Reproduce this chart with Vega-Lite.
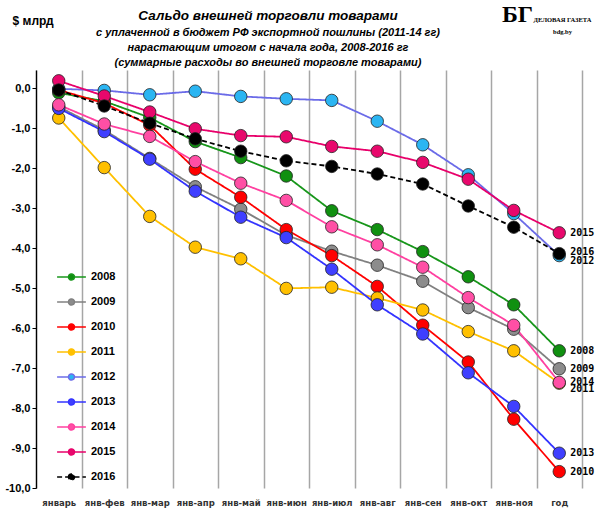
{
  "$schema": "https://vega.github.io/schema/vega-lite/v6.json",
  "width": 546,
  "height": 418,
  "autosize": {"type": "none"},
  "padding": {"left": 36, "top": 70, "right": 18, "bottom": 26},
  "background": "white",
  "title": {
    "text": "Сальдо внешней торговли товарами",
    "subtitle": [
      "с уплаченной в бюджет РФ экспортной пошлины (2011-14 гг)",
      "нарастающим итогом с начала года, 2008-2016  гг",
      "(суммарные  расходы во внешней  торговле  товарами)"
    ],
    "font": "Liberation Sans",
    "fontSize": 13.5,
    "fontStyle": "italic",
    "fontWeight": "bold",
    "subtitleFont": "Liberation Sans",
    "subtitleFontSize": 11,
    "subtitleFontStyle": "italic",
    "subtitleFontWeight": "bold",
    "subtitleColor": "black",
    "subtitleLineHeight": 15,
    "subtitlePadding": 5,
    "anchor": "middle",
    "frame": "group",
    "dx": -41,
    "dy": 70,
    "offset": 4
  },
  "data": {
    "values": [
      {"m": "январь", "yr": "2008", "v": -0.12},
      {"m": "январь", "yr": "2009", "v": -0.47},
      {"m": "январь", "yr": "2010", "v": -0.05},
      {"m": "январь", "yr": "2011", "v": -0.75},
      {"m": "январь", "yr": "2012", "v": -0.02},
      {"m": "январь", "yr": "2013", "v": -0.51},
      {"m": "январь", "yr": "2014", "v": -0.42},
      {"m": "январь", "yr": "2015", "v": 0.18},
      {"m": "январь", "yr": "2016", "v": -0.05},
      {"m": "янв-фев", "yr": "2008", "v": -0.33},
      {"m": "янв-фев", "yr": "2009", "v": -1.05},
      {"m": "янв-фев", "yr": "2010", "v": -0.38},
      {"m": "янв-фев", "yr": "2011", "v": -1.99},
      {"m": "янв-фев", "yr": "2012", "v": -0.06},
      {"m": "янв-фев", "yr": "2013", "v": -1.09},
      {"m": "янв-фев", "yr": "2014", "v": -0.9},
      {"m": "янв-фев", "yr": "2015", "v": -0.2},
      {"m": "янв-фев", "yr": "2016", "v": -0.45},
      {"m": "янв-мар", "yr": "2008", "v": -0.74},
      {"m": "янв-мар", "yr": "2009", "v": -1.76},
      {"m": "янв-мар", "yr": "2010", "v": -0.93},
      {"m": "янв-мар", "yr": "2011", "v": -3.21},
      {"m": "янв-мар", "yr": "2012", "v": -0.17},
      {"m": "янв-мар", "yr": "2013", "v": -1.78},
      {"m": "янв-мар", "yr": "2014", "v": -1.21},
      {"m": "янв-мар", "yr": "2015", "v": -0.6},
      {"m": "янв-мар", "yr": "2016", "v": -0.88},
      {"m": "янв-апр", "yr": "2008", "v": -1.34},
      {"m": "янв-апр", "yr": "2009", "v": -2.47},
      {"m": "янв-апр", "yr": "2010", "v": -2.03},
      {"m": "янв-апр", "yr": "2011", "v": -3.98},
      {"m": "янв-апр", "yr": "2012", "v": -0.08},
      {"m": "янв-апр", "yr": "2013", "v": -2.58},
      {"m": "янв-апр", "yr": "2014", "v": -1.84},
      {"m": "янв-апр", "yr": "2015", "v": -1.02},
      {"m": "янв-апр", "yr": "2016", "v": -1.27},
      {"m": "янв-май", "yr": "2008", "v": -1.74},
      {"m": "янв-май", "yr": "2009", "v": -3.03},
      {"m": "янв-май", "yr": "2010", "v": -2.73},
      {"m": "янв-май", "yr": "2011", "v": -4.27},
      {"m": "янв-май", "yr": "2012", "v": -0.21},
      {"m": "янв-май", "yr": "2013", "v": -3.23},
      {"m": "янв-май", "yr": "2014", "v": -2.38},
      {"m": "янв-май", "yr": "2015", "v": -1.19},
      {"m": "янв-май", "yr": "2016", "v": -1.58},
      {"m": "янв-июн", "yr": "2008", "v": -2.2},
      {"m": "янв-июн", "yr": "2009", "v": -3.68},
      {"m": "янв-июн", "yr": "2010", "v": -3.54},
      {"m": "янв-июн", "yr": "2011", "v": -5.01},
      {"m": "янв-июн", "yr": "2012", "v": -0.27},
      {"m": "янв-июн", "yr": "2013", "v": -3.74},
      {"m": "янв-июн", "yr": "2014", "v": -2.81},
      {"m": "янв-июн", "yr": "2015", "v": -1.22},
      {"m": "янв-июн", "yr": "2016", "v": -1.82},
      {"m": "янв-июл", "yr": "2008", "v": -3.07},
      {"m": "янв-июл", "yr": "2009", "v": -4.08},
      {"m": "янв-июл", "yr": "2010", "v": -4.19},
      {"m": "янв-июл", "yr": "2011", "v": -4.98},
      {"m": "янв-июл", "yr": "2012", "v": -0.31},
      {"m": "янв-июл", "yr": "2013", "v": -4.53},
      {"m": "янв-июл", "yr": "2014", "v": -3.47},
      {"m": "янв-июл", "yr": "2015", "v": -1.46},
      {"m": "янв-июл", "yr": "2016", "v": -1.96},
      {"m": "янв-авг", "yr": "2008", "v": -3.54},
      {"m": "янв-авг", "yr": "2009", "v": -4.43},
      {"m": "янв-авг", "yr": "2010", "v": -4.96},
      {"m": "янв-авг", "yr": "2011", "v": -5.25},
      {"m": "янв-авг", "yr": "2012", "v": -0.83},
      {"m": "янв-авг", "yr": "2013", "v": -5.42},
      {"m": "янв-авг", "yr": "2014", "v": -3.92},
      {"m": "янв-авг", "yr": "2015", "v": -1.58},
      {"m": "янв-авг", "yr": "2016", "v": -2.15},
      {"m": "янв-сен", "yr": "2008", "v": -4.09},
      {"m": "янв-сен", "yr": "2009", "v": -4.83},
      {"m": "янв-сен", "yr": "2010", "v": -5.93},
      {"m": "янв-сен", "yr": "2011", "v": -5.55},
      {"m": "янв-сен", "yr": "2012", "v": -1.42},
      {"m": "янв-сен", "yr": "2013", "v": -6.15},
      {"m": "янв-сен", "yr": "2014", "v": -4.48},
      {"m": "янв-сен", "yr": "2015", "v": -1.86},
      {"m": "янв-сен", "yr": "2016", "v": -2.4},
      {"m": "янв-окт", "yr": "2008", "v": -4.72},
      {"m": "янв-окт", "yr": "2009", "v": -5.49},
      {"m": "янв-окт", "yr": "2010", "v": -6.85},
      {"m": "янв-окт", "yr": "2011", "v": -6.09},
      {"m": "янв-окт", "yr": "2012", "v": -2.17},
      {"m": "янв-окт", "yr": "2013", "v": -7.12},
      {"m": "янв-окт", "yr": "2014", "v": -5.24},
      {"m": "янв-окт", "yr": "2015", "v": -2.28},
      {"m": "янв-окт", "yr": "2016", "v": -2.95},
      {"m": "янв-ноя", "yr": "2008", "v": -5.42},
      {"m": "янв-ноя", "yr": "2009", "v": -6.03},
      {"m": "янв-ноя", "yr": "2010", "v": -8.28},
      {"m": "янв-ноя", "yr": "2011", "v": -6.57},
      {"m": "янв-ноя", "yr": "2012", "v": -3.14},
      {"m": "янв-ноя", "yr": "2013", "v": -7.96},
      {"m": "янв-ноя", "yr": "2014", "v": -5.93},
      {"m": "янв-ноя", "yr": "2015", "v": -3.06},
      {"m": "янв-ноя", "yr": "2016", "v": -3.48},
      {"m": "год", "yr": "2008", "v": -6.57},
      {"m": "год", "yr": "2009", "v": -7.02},
      {"m": "год", "yr": "2010", "v": -9.59},
      {"m": "год", "yr": "2011", "v": -7.38},
      {"m": "год", "yr": "2012", "v": -4.19},
      {"m": "год", "yr": "2013", "v": -9.13},
      {"m": "год", "yr": "2014", "v": -7.36},
      {"m": "год", "yr": "2015", "v": -3.62},
      {"m": "год", "yr": "2016", "v": -4.14}
    ]
  },
  "encoding": {
    "x": {
      "field": "m",
      "type": "nominal",
      "scale": {
        "type": "band",
        "paddingInner": 0,
        "paddingOuter": 0,
        "domain": ["январь", "янв-фев", "янв-мар", "янв-апр", "янв-май", "янв-июн", "янв-июл", "янв-авг", "янв-сен", "янв-окт", "янв-ноя", "год"]
      },
      "axis": {
        "title": "БГ",
        "titleFont": "Liberation Serif",
        "titleFontSize": 24,
        "titleFontWeight": "bold",
        "titleX": 481,
        "titleY": -474,
        "titleBaseline": "middle",
        "titleAlign": "center",
        "tickBand": "extent",
        "labelAngle": 0,
        "labelFont": "DejaVu Sans",
        "labelFontSize": 8.5,
        "labelFontWeight": "bold",
        "labelColor": "#333",
        "labelPadding": 10,
        "domain": false,
        "ticks": false,
        "grid": true,
        "gridColor": "#a6a6a6",
        "gridWidth": 1.5
      }
    }
  },
  "layer": [
    {
      "mark": {"type": "rule", "color": "black", "strokeWidth": 1.3},
      "encoding": {
        "y": {
          "datum": 0,
          "type": "quantitative",
          "axis": {
            "orient": "right",
            "labels": false,
            "ticks": false,
            "grid": false,
            "domain": false,
            "title": ["ДЕЛОВАЯ ГАЗЕТА", "bdg.by"],
            "titleAngle": 0,
            "titleX": -20,
            "titleY": -51,
            "titleAlign": "center",
            "titleBaseline": "middle",
            "titleFont": "Liberation Serif",
            "titleFontSize": 6.5,
            "titleFontWeight": "bold",
            "titleLineHeight": 12
          }
        }
      }
    },
    {
      "mark": {"type": "line", "strokeWidth": 1.8},
      "encoding": {
        "y": {
          "field": "v",
          "type": "quantitative",
          "scale": {"domain": [-10, 0.45], "nice": false, "zero": false},
          "axis": {
            "values": [0, -1, -2, -3, -4, -5, -6, -7, -8, -9, -10],
            "labelExpr": "replace(replace(format(datum.value, '.1f'), '.', ','), '−', '-')",
            "labelFont": "Liberation Sans",
            "labelFontSize": 11,
            "labelFontWeight": "bold",
            "labelColor": "black",
            "labelPadding": 2,
            "tickSize": 4,
            "tickColor": "black",
            "domainColor": "black",
            "domainWidth": 1.3,
            "gridColor": "#c4c4c4",
            "gridWidth": 1.5,
            "title": "$ млрд",
            "titleAngle": 0,
            "titleAlign": "left",
            "titleBaseline": "middle",
            "titleX": -24,
            "titleY": -50,
            "titleFont": "Liberation Sans",
            "titleFontSize": 12,
            "titleFontWeight": "bold"
          }
        },
        "color": {
          "field": "yr",
          "type": "nominal",
          "scale": {
            "domain": ["2008", "2009", "2010", "2011", "2012", "2013", "2014", "2015", "2016"],
            "range": ["#17961a", "#808080", "#ff0000", "#ffc000", "#6b6be8", "#3333ff", "#ff40a0", "#e8006a", "#000000"]
          },
          "legend": {
            "orient": "none",
            "legendX": 22.5,
            "legendY": 194,
            "title": null,
            "padding": 0,
            "symbolType": "M-1.2,0H-0.25M0.25,0H1.2M-0.25,0A0.25,0.25,0,1,1,0.25,0A0.25,0.25,0,1,1,-0.25,0Z",
            "symbolSize": 576,
            "symbolStrokeWidth": 1.5,
            "labelFont": "Liberation Sans",
            "labelFontSize": 11,
            "labelFontWeight": "bold",
            "labelColor": "black",
            "labelOffset": 6.5,
            "rowPadding": 6,
            "encode": {
              "symbols": {
                "update": {
                  "fill": {"scale": "fill", "field": "value"},
                  "strokeDash": {"scale": "strokeDash", "field": "value"}
                }
              }
            }
          }
        },
        "strokeDash": {
          "field": "yr",
          "type": "nominal",
          "scale": {
            "domain": ["2008", "2009", "2010", "2011", "2012", "2013", "2014", "2015", "2016"],
            "range": [[1, 0], [1, 0], [1, 0], [1, 0], [1, 0], [1, 0], [1, 0], [1, 0], [5, 3]]
          },
          "legend": null
        }
      }
    },
    {
      "mark": {"type": "circle", "size": 155, "opacity": 1, "stroke": "#222", "strokeWidth": 0.8},
      "encoding": {
        "y": {"field": "v", "type": "quantitative", "axis": null},
        "fill": {
          "field": "yr",
          "type": "nominal",
          "scale": {
            "domain": ["2008", "2009", "2010", "2011", "2012", "2013", "2014", "2015", "2016"],
            "range": ["#109010", "#8c8c8c", "#ff0000", "#ffc000", "#2bb5f2", "#3f3fff", "#ff4fa5", "#e8086c", "#000000"]
          },
          "legend": null
        }
      }
    },
    {
      "transform": [{"filter": "datum.m == 'год' && indexof(['2011', '2012', '2016'], datum.yr) < 0"}],
      "mark": {"type": "text", "align": "left", "dx": 11, "font": "DejaVu Sans Mono", "fontSize": 10, "fontWeight": "bold", "color": "black"},
      "encoding": {
        "y": {"field": "v", "type": "quantitative", "axis": null},
        "text": {"field": "yr"}
      }
    },
    {
      "transform": [{"filter": "datum.m == 'год' && indexof(['2011', '2012'], datum.yr) >= 0"}],
      "mark": {"type": "text", "align": "left", "dx": 11, "dy": 5.5, "font": "DejaVu Sans Mono", "fontSize": 10, "fontWeight": "bold", "color": "black"},
      "encoding": {
        "y": {"field": "v", "type": "quantitative", "axis": null},
        "text": {"field": "yr"}
      }
    },
    {
      "transform": [{"filter": "datum.m == 'год' && datum.yr == '2016'"}],
      "mark": {"type": "text", "align": "left", "dx": 11, "dy": -1.5, "font": "DejaVu Sans Mono", "fontSize": 10, "fontWeight": "bold", "color": "black"},
      "encoding": {
        "y": {"field": "v", "type": "quantitative", "axis": null},
        "text": {"field": "yr"}
      }
    }
  ],
  "resolve": {"axis": {"y": "independent"}},
  "config": {
    "view": {"stroke": null}
  }
}
